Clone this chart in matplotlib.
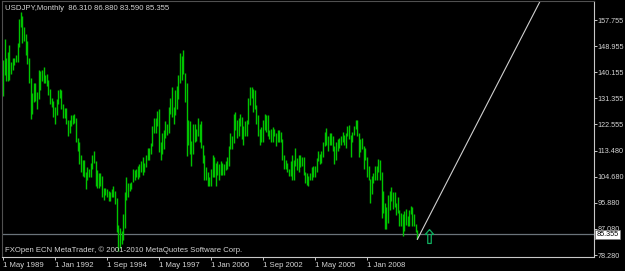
import matplotlib

matplotlib.use("Agg")
import matplotlib.pyplot as plt
import numpy as np
from matplotlib import font_manager
from matplotlib.path import Path
from matplotlib.transforms import blended_transform_factory

# ── Data: USDJPY monthly highs / lows, May 1989 .. Aug 2010 ─────────
highs = [
    144.2, 151.4, 145.0, 147.0, 149.4, 143.4, 145.0, 145.0,                           # 1989 (May-Dec)
    146.0, 150.0, 158.0, 160.4, 159.0, 155.5, 153.0, 150.5, 145.0, 138.0, 133.0, 136.5,  # 1990
    136.5, 133.5, 141.0, 140.5, 141.0, 142.0, 139.0, 139.5, 137.5, 134.5, 131.5, 130.5,  # 1991
    128.5, 131.0, 134.0, 134.5, 134.0, 129.5, 128.0, 128.0, 124.0, 124.0, 125.5, 125.5,  # 1992
    126.0, 124.5, 118.0, 116.5, 112.0, 110.5, 110.5, 106.5, 108.0, 107.5, 109.5, 112.0,  # 1993
    113.5, 110.0, 107.0, 106.0, 106.0, 105.0, 101.0, 101.0, 100.5, 100.0, 99.5, 100.5,   # 1994
    101.5, 100.0, 97.5, 88.5, 87.5, 86.5, 92.0, 99.5, 104.7, 102.5, 102.5, 103.0,        # 1995
    107.5, 107.0, 107.5, 108.5, 109.0, 110.0, 111.5, 109.5, 112.0, 114.5, 114.5, 116.0,  # 1996
    122.0, 124.5, 124.5, 127.0, 127.5, 116.5, 119.5, 120.5, 123.5, 122.5, 128.5, 131.5,  # 1997
    135.0, 128.5, 134.0, 135.5, 139.0, 146.5, 145.5, 147.7, 140.0, 136.5, 124.0, 123.5,  # 1998
    117.0, 122.5, 122.5, 121.0, 124.5, 122.5, 123.5, 115.5, 112.0, 108.0, 106.5, 104.5,  # 1999
    107.5, 112.0, 111.5, 109.5, 110.0, 109.0, 110.0, 109.5, 109.0, 110.0, 111.5, 115.0,  # 2000
    119.5, 118.5, 126.0, 126.5, 124.0, 124.5, 126.0, 125.0, 122.0, 123.5, 124.0, 131.5,  # 2001
    135.0, 135.0, 134.5, 134.0, 129.0, 125.5, 121.0, 121.5, 124.0, 126.0, 125.5, 125.5,  # 2002
    120.5, 121.0, 121.5, 121.0, 119.5, 120.5, 120.5, 120.0, 117.5, 112.0, 110.5, 109.5,  # 2003
    107.5, 110.0, 112.0, 110.5, 114.5, 111.0, 112.0, 112.0, 111.5, 111.5, 106.5, 106.0,  # 2004
    105.0, 106.0, 108.0, 108.5, 108.5, 111.0, 113.5, 112.5, 113.5, 116.5, 120.0, 121.4,  # 2005
    118.5, 119.5, 119.5, 118.5, 115.0, 116.5, 117.5, 118.0, 118.5, 120.0, 119.0, 119.5,  # 2006
    122.0, 122.2, 119.0, 120.0, 122.0, 124.1, 123.8, 119.5, 117.5, 118.0, 115.0, 114.5,  # 2007
    111.5, 108.5, 104.0, 105.0, 106.0, 108.5, 108.5, 110.6, 110.5, 106.5, 100.0, 96.0,   # 2008
    94.5, 98.5, 100.0, 101.4, 99.5, 99.5, 96.0, 97.8, 93.5, 92.5, 92.0, 93.0,            # 2009
    93.8, 91.5, 93.5, 94.7, 94.5, 92.0, 88.9, 86.88,                                    # 2010 (Jan-Aug)
]
lows = [
    132.0, 139.0, 137.0, 137.0, 137.4, 139.5, 141.0, 142.5,
    143.5, 143.5, 148.5, 155.5, 150.0, 150.5, 146.0, 143.0, 136.5, 124.2, 126.0, 130.0,
    130.5, 127.5, 131.0, 134.0, 137.0, 136.5, 136.5, 135.5, 132.5, 129.5, 128.5, 125.0,
    122.5, 125.5, 129.5, 131.5, 127.5, 124.5, 124.5, 122.5, 118.5, 119.5, 122.0, 122.5,
    123.0, 116.5, 113.5, 109.0, 106.5, 105.0, 104.5, 100.5, 103.5, 104.5, 104.5, 107.5,
    109.5, 101.5, 101.0, 101.0, 101.5, 98.0, 97.0, 98.5, 98.0, 96.5, 96.5, 98.0,
    98.0, 95.5, 86.0, 79.8, 80.5, 82.0, 83.5, 87.5, 97.0, 98.0, 100.0, 100.5,
    103.0, 103.5, 104.5, 104.0, 104.5, 106.5, 105.5, 106.5, 108.0, 110.5, 110.5, 112.5,
    115.0, 119.5, 119.5, 122.0, 113.0, 110.5, 112.5, 114.0, 118.0, 119.0, 119.5, 126.0,
    125.0, 122.5, 125.5, 127.5, 131.0, 136.5, 137.5, 139.5, 130.0, 111.6, 115.5, 112.5,
    108.5, 112.5, 116.5, 117.0, 118.5, 116.5, 114.5, 109.5, 103.5, 103.5, 101.5, 101.5,
    101.5, 104.5, 104.5, 101.5, 105.5, 103.5, 105.5, 105.5, 105.5, 107.0, 107.5, 108.5,
    114.0, 114.0, 116.0, 120.5, 118.0, 118.5, 122.0, 117.5, 115.5, 118.5, 118.5, 122.5,
    129.0, 131.5, 126.5, 127.5, 122.5, 118.5, 115.5, 116.5, 116.5, 120.5, 120.0, 118.5,
    117.5, 116.5, 116.5, 118.5, 115.0, 116.5, 116.5, 116.5, 110.5, 107.5, 107.5, 106.5,
    105.0, 105.0, 103.5, 103.5, 108.5, 107.0, 106.5, 108.0, 108.5, 105.5, 102.5, 101.8,
    101.7, 103.5, 103.5, 104.5, 104.5, 106.5, 110.0, 109.0, 109.5, 111.5, 115.0, 115.5,
    113.5, 115.5, 115.5, 113.5, 108.9, 110.5, 113.5, 114.5, 115.5, 116.5, 115.5, 114.5,
    118.5, 117.5, 111.5, 116.5, 119.0, 121.0, 118.5, 111.5, 113.0, 114.0, 107.2, 110.5,
    104.5, 103.5, 95.8, 99.0, 102.5, 103.5, 103.5, 106.5, 103.5, 90.9, 92.5, 87.1,
    87.2, 89.0, 93.5, 96.5, 93.8, 94.5, 91.8, 92.5, 88.2, 88.0, 84.8, 86.5,
    88.5, 88.2, 88.2, 92.0, 88.0, 88.2, 86.0, 83.59,
]

date_labels = ["1 May 1989", "1 Jan 1992", "1 Sep 1994", "1 May 1997",
               "1 Jan 2000", "1 Sep 2002", "1 May 2005", "1 Jan 2008"]
date_bars = [0, 32, 64, 96, 128, 160, 192, 224]          # bar index of each date label

price_ticks = [157.755, 148.955, 140.155, 131.355, 122.555,
               113.480, 104.680, 95.880, 87.080, 78.280]

last_ohlc = [86.310, 86.880, 83.590, 85.355]
bid = 85.355

# trendline anchors (bar index, price)
trend_x = [255, 331]
trend_y = [83.59, 164.6]
arrow_bar, arrow_price = 262, 84.8

# ── Fonts ─────────────────────────────────────────────────────────
names = {f.name for f in font_manager.fontManager.ttflist}
font = "Liberation Sans"
for cand in ["Liberation Sans Narrow", "DejaVu Sans Condensed"]:
    if cand in names:
        font = cand
        break
plt.rcParams["font.family"] = [font, "DejaVu Sans"]
FS = 5.6      # header, footer, dates
FS_Y = 5.2    # price scale
TXT = "#d4d4d4"
GREEN = "#00c400"

# ── Figure ────────────────────────────────────────────────────────
W, H = 625, 271
fig = plt.figure(figsize=(W / 100, H / 100), dpi=100, facecolor="black")
ax = fig.add_axes([2 / W, 14 / H, 592 / W, 256 / H], facecolor="black")

idx = np.arange(len(highs))
ax.vlines(idx, lows, highs, color=GREEN, linewidth=1.0)

# bid line
ax.axhline(bid, color="#6a737a", linewidth=0.9, zorder=1)

# trendline
ax.plot(trend_x, trend_y, color="#d0d0d0", linewidth=0.8)

# buy arrow
arrow = Path([(0, 1.0), (0.6, 0.3), (0.25, 0.3), (0.25, -1.0), (-0.25, -1.0),
              (-0.25, 0.3), (-0.6, 0.3), (0, 1.0)])
ax.plot(arrow_bar, arrow_price, marker=arrow, markersize=10,
        markerfacecolor="none", markeredgecolor="#10b060", markeredgewidth=0.9)

ax.set_xlim(-0.6, 363.7)
ax.set_ylim(157.755 - 237 / 2.957, 157.755 + 19 / 2.957)

# axes styling
for side in ["left", "top"]:
    ax.spines[side].set_color("#505050")
    ax.spines[side].set_linewidth(0.8)
for side in ["right", "bottom"]:
    ax.spines[side].set_color("#c8c8c8")
    ax.spines[side].set_linewidth(0.8)

ax.set_xticks(date_bars)
ax.set_xticklabels(date_labels, ha="left")
ax.tick_params(axis="x", colors="#c8c8c8", labelcolor=TXT, labelsize=FS,
               length=2, width=0.7, pad=1.5, direction="out")
ax.yaxis.tick_right()
ax.set_yticks(price_ticks)
ax.set_yticklabels([f"{v:.3f}" for v in price_ticks])
ax.tick_params(axis="y", colors="#c8c8c8", labelcolor=TXT, labelsize=FS_Y,
               length=2, width=0.7, pad=0.8, direction="out")

# bid price box on the axis
tr = blended_transform_factory(ax.transAxes, ax.transData)
ax.text(1.004, bid, f"{bid:.3f}", transform=tr, ha="left", va="center",
        fontsize=FS_Y, color="black", zorder=10, clip_on=False,
        bbox=dict(boxstyle="square,pad=0.15", facecolor="white",
                  edgecolor="#808080", linewidth=0.5))

# header / footer
fig.text(5 / W, 1 - 8 / H,
         "USDJPY,Monthly  " + " ".join(f"{v:.3f}" for v in last_ohlc),
         ha="left", va="center", fontsize=FS, color=TXT)
ax.text(0.005, 0.012, "FXOpen ECN MetaTrader, \u00a9 2001-2010 MetaQuotes Software Corp.",
        transform=ax.transAxes, ha="left", va="bottom", fontsize=FS, color=TXT)

fig.savefig("out.png", dpi=100, facecolor="black")
plt.close(fig)
